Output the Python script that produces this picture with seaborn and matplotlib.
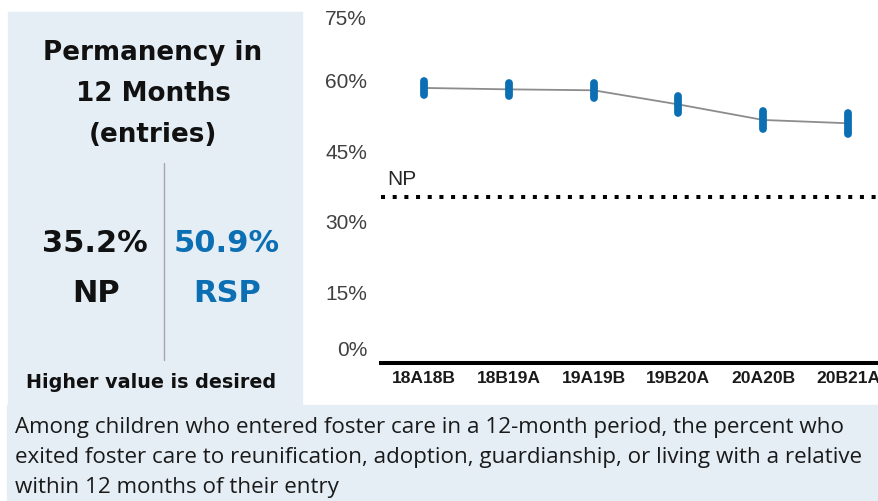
import numpy as np
import pandas as pd
import seaborn as sns
import matplotlib.pyplot as plt
from matplotlib.patches import Rectangle
from matplotlib.lines import Line2D
from matplotlib.transforms import ScaledTranslation, blended_transform_factory

# data
periods = ["18A18B", "18B19A", "19A19B", "19B20A", "20A20B", "20B21A"]
rsp_values = [58.4, 58.1, 57.9, 54.9, 51.6, 50.9]
ci_half = [1.5, 1.4, 1.6, 1.8, 1.9, 2.2]
np_value = 35.2
rsp_latest = 50.9
y_ticks = [0, 15, 30, 45, 60, 75]

title_lines = ["Permanency in", "12 Months", "(entries)"]
caption_lines = [
    "Among children who entered foster care in a 12-month period, the percent who",
    "exited foster care to reunification, adoption, guardianship, or living with a relative",
    "within 12 months of their entry",
]

df = pd.DataFrame({"period": periods, "rsp": rsp_values, "ci": ci_half})
df["low"] = df["rsp"] - df["ci"]
df["high"] = df["rsp"] + df["ci"]

sns.set_style("white")
plt.rcParams["font.family"] = ["Liberation Sans", "DejaVu Sans"]

W, H = 879, 501
fig = plt.figure(figsize=(W / 100, H / 100), dpi=100)
fig.patch.set_facecolor("white")

panel_bg = "#e5eef5"
blue = "#0c6fb3"


def fx(x):
    return x / W


def fy(y):
    return 1 - y / H


# light panels behind the summary and the caption
fig.patches.append(Rectangle((fx(8), fy(405)), fx(302) - fx(8), (405 - 12) / H,
                             transform=fig.transFigure, color=panel_bg, zorder=0))
fig.patches.append(Rectangle((fx(7), 0), fx(879) - fx(7), (501 - 405) / H,
                             transform=fig.transFigure, color=panel_bg, zorder=0))

# chart
ax = fig.add_axes([fx(381), fy(363), fx(879) - fx(381), (363 - 9.75) / H])
ax.set_facecolor("none")

sns.lineplot(data=df, x="period", y="rsp", ax=ax, color="#8c8c8c", linewidth=1.3,
             sort=False, zorder=2)
xpos = np.arange(len(df))
bars = ax.vlines(xpos, df["low"], df["high"], color=blue, linewidth=5.6, zorder=3)
bars.set_capstyle("round")

ax.axhline(np_value, color="black", linewidth=2.9, linestyle=(0, (1, 1.9)),
           dash_capstyle="butt", zorder=1)
trans = blended_transform_factory(ax.transAxes, ax.transData)
ax.text(0.012, 38.9, "NP", transform=trans, ha="left", va="center",
        fontsize=15, color="#262626")

ax.set_ylim(0, 75)
ax.set_xlim(-0.507, 5.366)
ax.set_yticks(y_ticks)
ax.set_yticklabels([f"{t}%" for t in y_ticks])
ax.set_xlabel("")
ax.set_ylabel("")
ax.tick_params(axis="y", length=0, pad=10, labelsize=15, labelcolor="#404040")
ax.tick_params(axis="x", length=0, pad=6, labelsize=12.6, labelcolor="#1a1a1a")
for lab in ax.get_xticklabels():
    lab.set_fontweight("bold")
ylabs = ax.get_yticklabels()
ylabs[0].set_transform(ylabs[0].get_transform() + ScaledTranslation(0, 0.14, fig.dpi_scale_trans))
ylabs[-1].set_transform(ylabs[-1].get_transform() + ScaledTranslation(0, -0.08, fig.dpi_scale_trans))

sns.despine(ax=ax, left=True)
ax.spines["bottom"].set_linewidth(2.9)
ax.spines["bottom"].set_color("black")

# summary panel
box_font = ["DejaVu Sans"]
for line, base in zip(title_lines, [60, 101, 142]):
    fig.text(fx(153), fy(base), line, ha="center", va="baseline", fontsize=18.8,
             fontweight="bold", color="#111111", family=box_font)

fig.text(fx(95), fy(252), f"{np_value:.1f}%", ha="center", va="baseline", fontsize=22,
         fontweight="bold", color="#111111", family=box_font)
fig.text(fx(96), fy(302), "NP", ha="center", va="baseline", fontsize=22,
         fontweight="bold", color="#111111", family=box_font)
fig.text(fx(227), fy(252), f"{rsp_latest:.1f}%", ha="center", va="baseline", fontsize=22,
         fontweight="bold", color=blue, family=box_font)
fig.text(fx(227), fy(302), "RSP", ha="center", va="baseline", fontsize=22,
         fontweight="bold", color=blue, family=box_font)
fig.lines.append(Line2D([fx(164), fx(164)], [fy(163), fy(360)], transform=fig.transFigure,
                        color="#a8a8a8", linewidth=1))
fig.text(fx(151), fy(388), "Higher value is desired", ha="center", va="baseline",
         fontsize=13.8, fontweight="bold", color="#111111", family=box_font)

# caption
for line, base in zip(caption_lines, [433, 463, 493]):
    fig.text(fx(15), fy(base), line, ha="left", va="baseline", fontsize=16.1,
             color="#1a1a1a", family=["Open Sans", "DejaVu Sans"])

fig.savefig("out.png", dpi=100)
